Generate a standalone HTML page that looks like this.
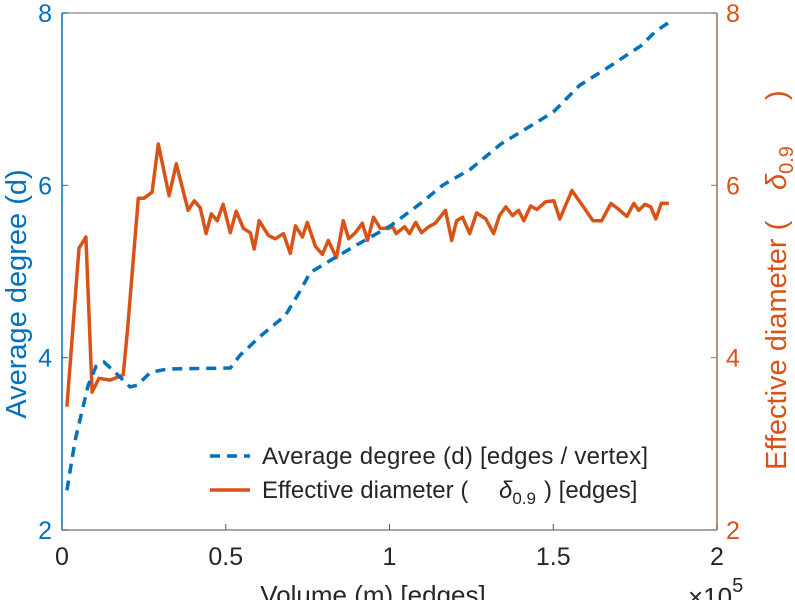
<!DOCTYPE html>
<html><head><meta charset="utf-8"><style>
body{margin:0;background:#fff}
svg{display:block;font-family:"Liberation Sans",sans-serif}
</style></head><body>
<svg id="chart" width="795" height="600">
<g id="axes"></g><g id="plot"></g>
<g>
<line x1="210" y1="456" x2="250" y2="456" stroke="#0072BD" stroke-width="3.5" stroke-dasharray="10,7"/>
<text x="262" y="464" font-size="24" textLength="386" fill="#262626">Average degree (d) [edges / vertex]</text>
<line x1="210" y1="490" x2="250" y2="490" stroke="#D95319" stroke-width="3.5"/>
<text y="498" font-size="24" fill="#262626"><tspan x="262">Effective diameter (</tspan><tspan x="499" font-style="italic">δ</tspan><tspan font-size="17" dy="6">0.9</tspan><tspan dy="-6" x="544">) [edges]</tspan></text>
</g>
<text x="373" y="604" font-size="26" fill="#262626" text-anchor="middle">Volume (m) [edges]</text>
<text x="688" y="606" font-size="26" fill="#262626">×10<tspan font-size="20" dy="-14">5</tspan></text>
<text transform="translate(26,294) rotate(-90)" font-size="29" fill="#0072BD" text-anchor="middle">Average degree (d)</text>
<text transform="translate(786,470) rotate(-90)" font-size="29" fill="#D95319"><tspan x="0">Effective diameter (</tspan><tspan x="280" font-style="italic">δ</tspan><tspan font-size="20" dy="7">0.9</tspan><tspan dy="-7" x="370">)</tspan></text>
</svg>
<script>
const xTicks=[0,0.5,1,1.5,2];
const xTickLabels=["0","0.5","1","1.5","2"];
const yTicks=[2,4,6,8];
const yTickLabels=["2","4","6","8"];
const degreeX=[0.015,0.04,0.08,0.104,0.128,0.162,0.208,0.23,0.27,0.324,0.514,0.544,0.606,0.682,0.728,0.758,0.82,0.896,1.003,1.095,1.162,1.248,1.34,1.5,1.58,1.676,1.768,1.813,1.853];
const degreeY=[2.46,3.04,3.68,3.9,3.95,3.83,3.66,3.68,3.83,3.87,3.88,4.03,4.25,4.49,4.78,4.99,5.13,5.30,5.53,5.79,6.0,6.19,6.48,6.85,7.16,7.39,7.62,7.79,7.89];
const diamX=[0.015,0.052,0.073,0.092,0.113,0.147,0.187,0.2,0.233,0.25,0.275,0.294,0.327,0.349,0.385,0.404,0.422,0.44,0.456,0.474,0.492,0.514,0.532,0.554,0.575,0.587,0.602,0.630,0.651,0.676,0.697,0.713,0.734,0.749,0.774,0.795,0.813,0.838,0.859,0.875,0.896,0.917,0.933,0.951,0.972,0.997,1.01,1.02,1.046,1.061,1.08,1.098,1.12,1.14,1.171,1.19,1.205,1.223,1.245,1.266,1.294,1.318,1.336,1.355,1.376,1.394,1.41,1.431,1.45,1.477,1.502,1.52,1.557,1.596,1.621,1.648,1.676,1.697,1.725,1.746,1.761,1.78,1.798,1.813,1.83,1.853];
const diamY=[3.43,5.27,5.40,3.6,3.76,3.74,3.80,4.32,5.85,5.85,5.92,6.48,5.88,6.25,5.71,5.82,5.74,5.44,5.67,5.59,5.78,5.45,5.70,5.50,5.45,5.26,5.59,5.42,5.38,5.44,5.21,5.53,5.40,5.57,5.29,5.20,5.36,5.16,5.59,5.38,5.45,5.56,5.36,5.63,5.50,5.50,5.52,5.44,5.52,5.44,5.57,5.45,5.52,5.56,5.71,5.36,5.59,5.63,5.44,5.68,5.61,5.44,5.65,5.75,5.65,5.71,5.59,5.76,5.72,5.81,5.82,5.61,5.94,5.73,5.59,5.59,5.79,5.73,5.64,5.79,5.71,5.78,5.75,5.61,5.79,5.79];
const X0=62,X1=717,YT=13,YB=530;
const sx=v=>X0+(v-0)/(2-0)*(X1-X0);
const sy=v=>YB-(v-2)/(8-2)*(YB-YT);
const NS="http://www.w3.org/2000/svg";
function mk(tag,attrs,parent){const e=document.createElementNS(NS,tag);for(const k in attrs)e.setAttribute(k,attrs[k]);parent.appendChild(e);return e;}
const ax=document.getElementById('axes'),pl=document.getElementById('plot');
let e;
e=mk('line',{x1:X0,y1:YT,x2:X1,y2:YT,stroke:'#999','stroke-width':1.5},ax);


e=mk('line',{x1:X0,y1:YB,x2:X1,y2:YB,stroke:'#8a8a8a','stroke-width':1.5},ax);


e=mk('line',{x1:X0,y1:YT,x2:X0,y2:YB,stroke:'#0072BD','stroke-width':1.5},ax);


e=mk('line',{x1:X1,y1:YT,x2:X1,y2:YB,stroke:'#a07060','stroke-width':1.5},ax);


xTicks.forEach((t,i)=>{
 const x=sx(t);
 let l=mk('line',{x1:x,y1:YB,x2:x,y2:YB-6,stroke:'#555','stroke-width':1},ax);
 
 
 let tx=mk('text',{x:x,y:YB+35,'font-size':25,fill:'#262626','text-anchor':'middle'},ax);
 tx.textContent=xTickLabels[i];
 
 
});
yTicks.forEach((t,i)=>{
 const y=sy(t);
 let l=mk('line',{x1:X0,y1:y,x2:X0+6,y2:y,stroke:'#0072BD','stroke-width':1},ax);
 
 
 let tx=mk('text',{x:X0-10,y:y+9,'font-size':25,fill:'#0072BD','text-anchor':'end'},ax);
 tx.textContent=yTickLabels[i];
 
 
 let l2=mk('line',{x1:X1,y1:y,x2:X1-6,y2:y,stroke:'#a07060','stroke-width':1},ax);
 
 
 let tx2=mk('text',{x:X1+9,y:y+9,'font-size':25,fill:'#D95319','text-anchor':'start'},ax);
 tx2.textContent=yTickLabels[i];
 
 
});
const pd=(xs,ys)=>xs.map((v,i)=>(i?'L':'M')+sx(v).toFixed(1)+','+sy(ys[i]).toFixed(1)).join(' ');
e=mk('path',{d:pd(diamX,diamY),fill:'none',stroke:'#D95319','stroke-width':3.5,'stroke-linejoin':'round'},pl);


e=mk('path',{d:pd(degreeX,degreeY),fill:'none',stroke:'#0072BD','stroke-width':3.5,'stroke-dasharray':'10,7'},pl);


</script>
</body></html>
